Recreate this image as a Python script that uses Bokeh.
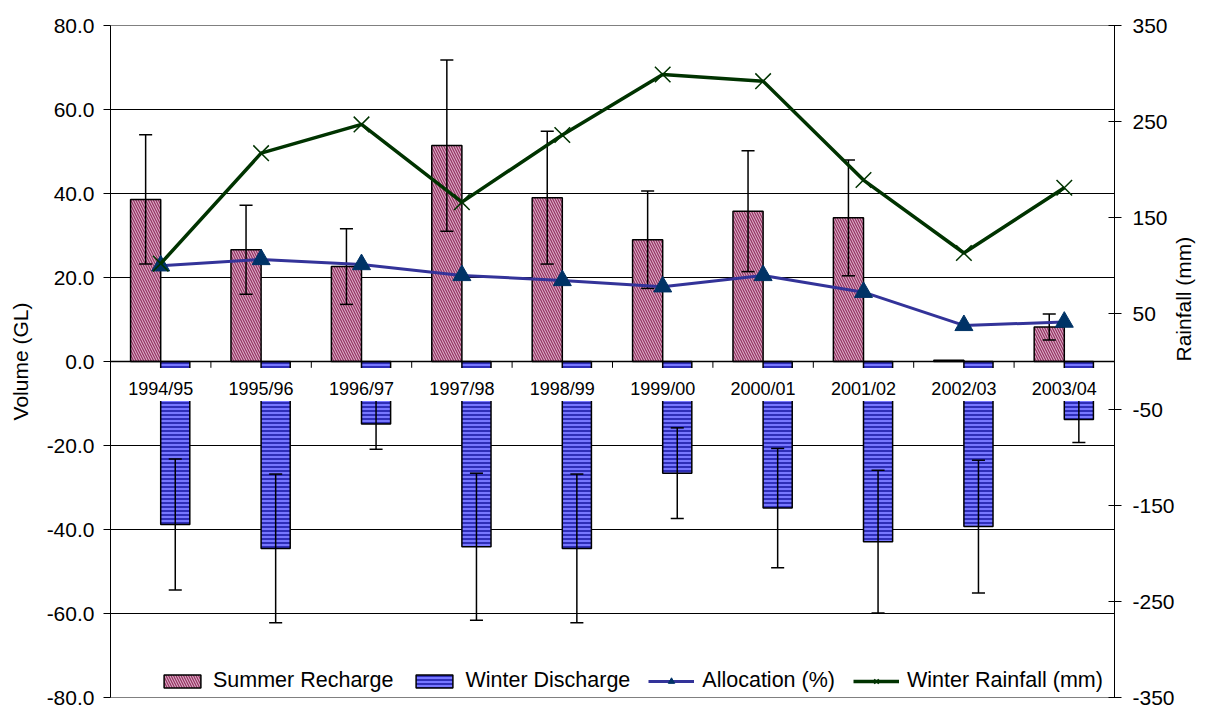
import math
from bokeh.plotting import figure
from bokeh.models import (Range1d, LinearAxis, FixedTicker, NumeralTickFormatter,
                          Legend, LegendItem, Span)
from bokeh.core.properties import value
from bokeh.embed import file_html
from bokeh.resources import INLINE

nan = float("nan")

seasons = ["1994/95", "1995/96", "1996/97", "1997/98", "1998/99",
           "1999/00", "2000/01", "2001/02", "2002/03", "2003/04"]
summer_recharge = [38.6, 26.6, 22.6, 51.4, 39.0, 29.0, 35.8, 34.2, 0.3, 8.2]
summer_err = [15.4, 10.6, 9.0, 20.4, 15.8, 11.6, 14.4, 13.8, nan, 3.1]
winter_discharge = [-38.8, -44.5, -14.9, -44.1, -44.5, -26.6, -34.9, -42.9, -39.3, -13.8]
winter_err = [15.6, 17.7, 6.0, 17.5, 17.7, 10.8, 14.2, 17.0, 15.8, 5.5]
allocation = [22.8, 24.3, 23.1, 20.5, 19.3, 17.8, 20.5, 16.5, 8.6, 9.4]
rainfall = [102, 217, 247, 166, 236, 299, 292, 189, 113, 181]

left_ticks = [-80, -60, -40, -20, 0, 20, 40, 60, 80]
right_ticks = [-350, -250, -150, -50, 50, 150, 250, 350]

FONT = "Liberation Sans"
n = len(seasons)
centers = [i + 0.5 for i in range(n)]
sx = [c - 0.15 for c in centers]
wx = [c + 0.145 for c in centers]
CAP = 0.065

p = figure(width=1209, height=708, x_range=Range1d(0, n), y_range=Range1d(-80, 80),
           output_backend="svg", toolbar_location=None, x_axis_location=None,
           min_border_left=110, min_border_right=95, min_border_top=25, min_border_bottom=11)
p.extra_y_ranges = {"rain": Range1d(-350, 350)}
p.outline_line_color = "#808080"
p.outline_line_width = 1
p.background_fill_color = "white"
for g in p.grid:
    if g.dimension == 0:
        g.visible = False
p.ygrid.ticker = FixedTicker(ticks=[t for t in left_ticks if abs(t) != 80 and t != 0])
p.ygrid.grid_line_color = "black"
p.ygrid.grid_line_width = 1

ya = p.yaxis[0]
ya.ticker = FixedTicker(ticks=left_ticks)
ya.formatter = NumeralTickFormatter(format="0.0")
ya.axis_label = "Volume (GL)"
ya.minor_tick_line_color = None
ya.major_tick_in = 0
ya.major_tick_out = 7
ya.major_label_standoff = 9
ya.axis_label_standoff = 12
ya.axis_line_color = "black"
ya.major_tick_line_color = "black"
ya.major_label_text_font = FONT
ya.major_label_text_font_size = "21px"
ya.major_label_text_color = "black"
ya.axis_label_text_font = FONT
ya.axis_label_text_font_size = "21px"
ya.axis_label_text_font_style = "normal"
ya.axis_label_text_color = "black"

ra = LinearAxis(y_range_name="rain", ticker=FixedTicker(ticks=right_ticks),
                formatter=NumeralTickFormatter(format="0"),
                axis_label="Rainfall (mm)")
ra.minor_tick_line_color = None
ra.major_tick_in = 6
ra.major_tick_out = 7
ra.major_label_standoff = 11
ra.axis_label_standoff = 6
ra.axis_line_color = "black"
ra.major_tick_line_color = "black"
ra.major_label_text_font = FONT
ra.major_label_text_font_size = "21px"
ra.major_label_text_color = "black"
ra.axis_label_text_font = FONT
ra.axis_label_text_font_size = "21px"
ra.axis_label_text_font_style = "normal"
ra.axis_label_text_color = "black"
if "axis_label_orientation" in ra.properties():
    ra.axis_label_orientation = math.pi / 2
p.add_layout(ra, "right")

# bars
r_s = p.vbar(x=sx, top=summer_recharge, bottom=0, width=0.3,
             fill_color="#993366", line_color="black", line_width=1.5,
             hatch_pattern="\\", hatch_color="white", hatch_scale=5, hatch_weight=1.0,
             hatch_alpha=0.7)
r_w = p.vbar(x=wx, top=0, bottom=winter_discharge, width=0.29,
             fill_color="#7777FF", line_color="black", line_width=1.5,
             hatch_pattern="-", hatch_color="#2E2EB8", hatch_scale=4, hatch_weight=2)

# error bars
for xs, vals, errs in ((sx, summer_recharge, summer_err), (wx, winter_discharge, winter_err)):
    lo = [v - e for v, e in zip(vals, errs)]
    hi = [v + e for v, e in zip(vals, errs)]
    p.segment(x0=xs, x1=xs, y0=lo, y1=hi, line_color="black", line_width=1.5)
    p.segment(x0=[x - CAP for x in xs], x1=[x + CAP for x in xs], y0=lo, y1=lo,
              line_color="black", line_width=1.5)
    p.segment(x0=[x - CAP for x in xs], x1=[x + CAP for x in xs], y0=hi, y1=hi,
              line_color="black", line_width=1.5)

# category axis along zero
p.rect(x=centers, y=-5.45, width=74, height=33, width_units="screen", height_units="screen",
       fill_color="white", line_color=None)
p.add_layout(Span(location=0, dimension="width", line_color="black", line_width=1.5))
bounds = list(range(n + 1))
p.segment(x0=bounds, x1=bounds, y0=[0] * len(bounds), y1=[-1.5] * len(bounds),
          line_color="black", line_width=1)
p.text(x=centers, y=-6.6, text=seasons, text_align="center", text_baseline="middle",
       text_font=value(FONT), text_font_size=value("18px"), text_color="black")

# lines
r_al = p.line(centers, allocation, line_color="#333399", line_width=3)
r_am = p.scatter(centers, allocation, marker="triangle", size=18,
                 fill_color="#003366", line_color="#003366")
r_rl = p.line(centers, rainfall, y_range_name="rain", line_color="#003300", line_width=3.5)
r_rm = p.scatter(centers, rainfall, y_range_name="rain", marker="x", size=22,
                 line_color="#003300", line_width=1.5)

legend = Legend(items=[
    LegendItem(label="Summer Recharge", renderers=[r_s]),
    LegendItem(label="Winter Discharge", renderers=[r_w]),
    LegendItem(label="Allocation (%)", renderers=[r_al, r_am]),
    LegendItem(label="Winter Rainfall (mm)", renderers=[r_rl, r_rm]),
], orientation="horizontal", location=(49, 4), glyph_width=46, glyph_height=16,
    label_standoff=8, spacing=18, padding=4, margin=0, border_line_color=None,
    background_fill_alpha=0, label_text_font=FONT, label_text_font_size="21.5px",
    label_text_color="black", label_height=20)
p.add_layout(legend)

open("out.html", "w").write(file_html(p, INLINE, "chart"))
